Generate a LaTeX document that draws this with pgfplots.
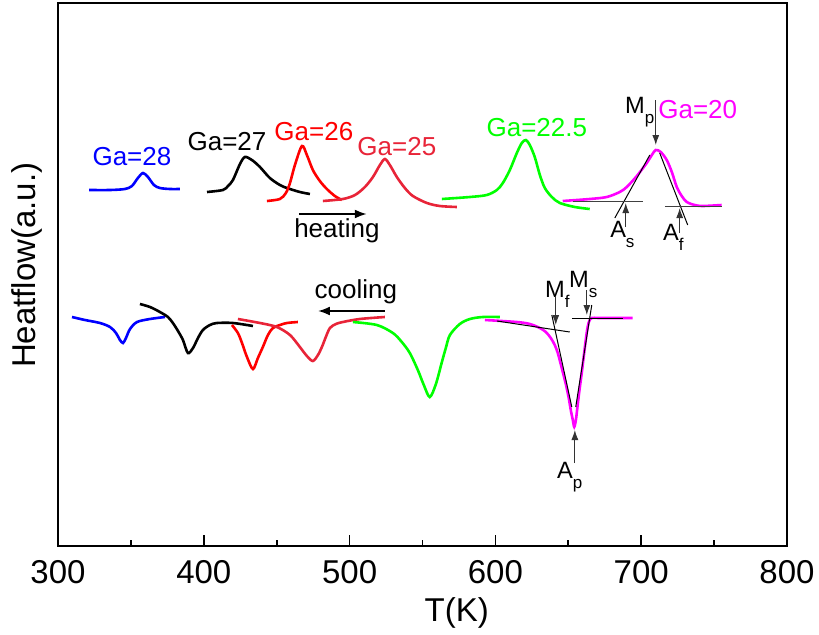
\documentclass[border=0pt]{standalone}
\usepackage{fontspec}
\setmainfont{Liberation Sans}
\usepackage{pgfplots}
\pgfplotsset{compat=1.18}
\usetikzlibrary{arrows.meta}
\definecolor{cblue}{RGB}{0,0,255}
\definecolor{cred}{RGB}{255,0,0}
\definecolor{ccrim}{RGB}{232,36,56}
\definecolor{cgreen}{RGB}{0,255,0}
\definecolor{cmag}{RGB}{255,0,255}
\newcommand{\lab}[2]{#1\raisebox{-5pt}{\fontsize{8.5}{8.5}\selectfont #2}}
\begin{document}
\begin{tikzpicture}
\useasboundingbox (-29pt,-44pt) rectangle (380.5pt,273pt);
\begin{axis}[
 scale only axis, width=364.5pt, height=271.5pt,
 xmin=300, xmax=800, ymin=0, ymax=543,
 xtick={300,400,...,800}, minor x tick num=1,
 ytick=\empty, tick align=inside, xtick pos=left,
 major tick length=5.5pt, minor tick length=3pt,
 axis line style={line width=1pt},
 every tick/.style={black, line width=0.8pt},
 ticklabel style={font=\fontsize{16.5}{16.5}\selectfont},
 /pgf/number format/assume math mode=true,
 xticklabel style={inner sep=0pt, yshift=-7pt},
 xlabel={T(K)}, ylabel={Heatflow(a.u.)},
 label style={font=\fontsize{16.5}{16.5}\selectfont},
 xlabel style={at={(axis description cs:0.547,0)}, anchor=north, inner sep=0pt, yshift=-25.5pt},
 ylabel style={at={(axis description cs:-0.0206,0.517)}, anchor=south, inner sep=0pt},
 no markers,
 every axis plot/.append style={line width=1.3pt, smooth, tension=0.5},
]
% ---------- heating ----------
\addplot[cblue] coordinates {(321.3,356)(335.7,356)(345.9,357)(350.7,360)(354.8,368)(358.3,373)(361.7,369)(365.8,361)(369.9,358)(376.8,357)(383.6,357)};
\addplot[black] coordinates {(402.2,354)(413.1,356)(416.6,360)(420.0,366)(424.8,382)(428.2,389)(433.0,386)(438.5,379)(445.3,368)(452.2,361)(457.0,358)(465.9,354)(472.8,352)};
\addplot[cred] coordinates {(443.3,345)(452.2,347)(456.3,353)(459.1,363)(462.5,381)(467.3,400)(470.7,391)(474.8,376)(479.6,365)(484.4,357)(489.9,350)(494.7,346)};
\addplot[ccrim] coordinates {(481.7,345)(495.4,347)(503.7,351)(510.5,359)(516.0,369)(520.8,381)(524.2,387)(527.6,381)(532.4,369)(537.9,358)(543.4,350)(553.0,343)(561.9,340)(573.6,339)};
\addplot[cgreen] coordinates {(563.3,347)(582.5,349)(594.1,351)(601.0,356)(605.1,363)(609.9,376)(614.7,393)(618.1,403)(620.9,406)(623.6,401)(627.0,389)(630.5,371)(633.9,358)(638.7,349)(644.2,343)(654.5,339)(664.7,337)};
\addplot[cmag] coordinates {(646.2,345)(664.7,347)(676.4,349)(685.3,354)(690.1,359)(697.0,370)(703.8,383)(707.3,391)(710.0,396)(713.4,394)(717.5,386)(721.0,374)(724.4,359)(727.8,350)(731.3,344)(736.7,341)(742.2,340)(755.2,341)};
% ---------- cooling ----------
\addplot[cblue] coordinates {(309.6,229)(318.5,226)(328.8,223)(335.7,219)(339.8,213)(342.5,206)(344.6,203)(346.6,208)(349.4,217)(354.2,224)(363.1,227)(373.4,229)};
\addplot[black] coordinates {(356.2,242)(363.1,239)(369.9,234)(375.4,229)(378.8,223)(382.3,215)(385.7,206)(389.1,193)(392.6,198)(396.0,208)(399.4,216)(404.2,221)(409.0,223)(420.0,223)(433.7,220)};
\addplot[cred] coordinates {(419.3,221)(423.4,213)(426.2,203)(429.6,189)(433.7,177)(437.1,188)(440.5,199)(444.0,211)(447.4,218)(452.2,221)(457.0,223)(464.5,224)};
\addplot[ccrim] coordinates {(423.4,227)(438.5,223)(450.1,219)(459.1,211)(465.9,199)(470.7,190)(474.8,185)(478.3,191)(481.0,199)(483.7,209)(486.5,218)(490.6,222)(495.4,224)(507.0,227)(524.2,229)};
\addplot[cgreen] coordinates {(502.3,224)(518.7,221)(529.7,213)(535.8,204)(541.3,193)(546.8,176)(550.9,161)(555.0,149)(559.2,162)(563.3,184)(566.0,198)(568.8,211)(575.6,222)(582.5,227)(591.4,229)(603.0,229)};
\addplot[cmag] coordinates {(592.8,226)(614.7,224)(623.6,222)(630.5,218)(634.6,214)(638.0,208)(640.7,201)(642.8,193)(645.5,178)(648.3,162)(650.3,148)(651.7,136)(653.1,126)(654.1,119)(655.2,126)(656.2,138)(657.5,154)(659.3,174)(661.3,198)(662.7,214)(664.1,224)(666.1,228)(671.6,228)(694.2,228)};
% ---------- tangent lines ----------
\addplot[black, line width=0.5pt, sharp plot] coordinates {(705.9,391)(681.9,328)};
\addplot[black!75, line width=0.5pt, sharp plot] coordinates {(653.1,345)(701.1,345)};
\addplot[black, line width=0.5pt, sharp plot] coordinates {(712.7,393)(731.9,321)};
\addplot[black!75, line width=0.5pt, sharp plot] coordinates {(716.2,340)(755.2,340)};
\addplot[black, line width=0.5pt, sharp plot] coordinates {(601.0,225)(651.0,214)};
\addplot[black, line width=0.5pt, sharp plot] coordinates {(638.7,231)(652.4,139)};
\addplot[black, line width=0.5pt, sharp plot] coordinates {(655.1,139)(666.1,241)};
\addplot[black, line width=0.5pt, sharp plot] coordinates {(652.4,228)(687.4,228)};
% ---------- arrows ----------
\draw[-{Latex[length=5pt,width=3.5pt]}, line width=0.5pt, black!80] (axis cs:710.0,446) -- (axis cs:710.0,401);
\draw[-{Latex[length=5pt,width=3.5pt]}, line width=0.5pt, black!80] (axis cs:689.4,319) -- (axis cs:689.4,343);
\draw[-{Latex[length=5pt,width=3.5pt]}, line width=0.5pt, black!80] (axis cs:726.4,313) -- (axis cs:726.4,338);
\draw[-{Latex[length=5pt,width=3.5pt]}, line width=0.5pt, black!80] (axis cs:641.4,249) -- (axis cs:641.4,221);
\draw[-{Latex[length=5pt,width=3.5pt]}, line width=0.5pt, black!80] (axis cs:662.7,256) -- (axis cs:662.7,231);
\draw[-{Latex[length=5pt,width=3.5pt]}, line width=0.5pt, black!80] (axis cs:654.5,83) -- (axis cs:654.5,116);
\draw[-{Latex[length=6pt,width=4.5pt]}, line width=1pt] (axis cs:465.2,332) -- (axis cs:511.8,332);
\draw[-{Latex[length=6pt,width=4.5pt]}, line width=1pt] (axis cs:524.2,235) -- (axis cs:478.3,235);
% ---------- labels ----------
\begin{scope}[every node/.style={font=\fontsize{13}{13}\selectfont, inner sep=0pt}]
\node[text=cblue] at (axis cs:350.7,389) {Ga=28};
\node[text=black] at (axis cs:415.9,404) {Ga=27};
\node[text=cred] at (axis cs:475.5,414) {Ga=26};
\node[text=ccrim] at (axis cs:532.4,399) {Ga=25};
\node[text=cgreen] at (axis cs:628.4,418) {Ga=22.5};
\node[text=cmag] at (axis cs:738.8,436) {Ga=20};
\node at (axis cs:491.3,315) {heating};
\node at (axis cs:504.3,254) {cooling};
\end{scope}
\begin{scope}[every node/.style={font=\fontsize{11.8}{11.8}\selectfont, inner sep=0pt, anchor=base west}]
\node at (axis cs:688.7,433) {\lab{M}{p}};
\node at (axis cs:678.5,309) {\lab{A}{s}};
\node at (axis cs:714.8,306) {\lab{A}{f}};
\node at (axis cs:633.9,249) {\lab{M}{f}};
\node at (axis cs:650.3,259) {\lab{M}{s}};
\node at (axis cs:642.1,68) {\lab{A}{p}};
\end{scope}
\end{axis}
\end{tikzpicture}
\end{document}
